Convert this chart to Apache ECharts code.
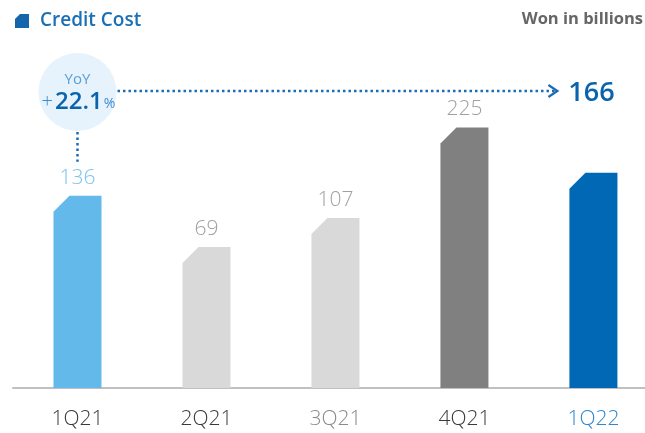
<!DOCTYPE html>
<html><head><meta charset="utf-8">
<script src="https://cdn.jsdelivr.net/npm/echarts@6/dist/echarts.min.js"></script>
<style>html,body{margin:0;padding:0;background:#fff}#c{width:645px;height:433px}</style>
</head><body><div id="c"></div>
<script>
const categories = ['1Q21', '2Q21', '3Q21', '4Q21', '1Q22'];
const values = [136, 69, 107, 225, 166];
const yoyLabel = 'YoY';
const yoyValue = '22.1';
const titleText = 'Credit Cost';
const unitText = 'Won in billions';

const barColors = ['#63b9e9', '#d9d9d9', '#d9d9d9', '#808080', '#0068b4'];
const valueLabelColors = ['#7cc3ec', '#a0a0a0', '#a0a0a0', '#a0a0a0', '#0a64ad'];
const axisLabelColors = ['#3a3a3a', '#3a3a3a', '#8a8a8a', '#3a3a3a', '#2f86cf'];
const Y_MIN = -115, Y_MAX = 300;
const X_MIN = -0.5, X_MAX = 4.4;
const FONT = '"Open Sans", "Noto Sans", sans-serif';

const chart = echarts.init(document.getElementById('c'), null, {renderer: 'canvas'});
chart.setOption({
  animation: false,
  backgroundColor: '#fff',
  grid: {left: 13, right: 0, top: 70, bottom: 45, containLabel: false},
  xAxis: {
    type: 'value', min: X_MIN, max: X_MAX,
    splitLine: {show: false},
    axisLine: {show: true, onZero: false, lineStyle: {color: '#c0c0c0', width: 2}},
    axisTick: {show: false},
    axisLabel: {
      customValues: categories.map((c, i) => i),
      margin: 21, fontSize: 21, fontFamily: FONT, fontWeight: 300,
      formatter: v => categories[Math.round(v)],
      color: (v, i) => axisLabelColors[Math.round(Number(v))]
    }
  },
  yAxis: {type: 'value', min: Y_MIN, max: Y_MAX, show: false, splitLine: {show: false}},
  series: [{
    type: 'custom',
    clip: false,
    data: values.map((v, i) => [i, v]),
    renderItem: function (params, api) {
      const i = api.value(0), v = api.value(1);
      const top = api.coord([i, v]);
      const base = api.coord([i, Y_MIN]);
      const w = 48, c = 16;
      const x0 = top[0] - w / 2, x1 = top[0] + w / 2;
      const children = [{
        type: 'polygon',
        shape: {points: [[x0, base[1]], [x0, top[1] + c], [x0 + c, top[1]], [x1, top[1]], [x1, base[1]]]},
        style: {fill: barColors[i]}
      }];
      if (i < values.length - 1) {
        children.push({
          type: 'text',
          style: {
            text: String(v), x: top[0], y: top[1] - 18,
            align: 'center', verticalAlign: 'middle',
            fontSize: 21, fontFamily: FONT, fontWeight: 300, fill: valueLabelColors[i]
          }
        });
      }
      return {type: 'group', children: children};
    }
  }]
});

// annotations positioned from the chart's own coordinate system
const p0 = chart.convertToPixel({gridIndex: 0}, [0, values[0]]);
const pLast = chart.convertToPixel({gridIndex: 0}, [values.length - 1, values[values.length - 1]]);
const cx = p0[0], cy = 92, r = 39;
const arrowY = 91;
const arrowEnd = pLast[0] - 36;
const blue = '#1a6cb5';

chart.setOption({
  graphic: [
    {type: 'polygon', shape: {points: [[20, 14], [29, 14], [29, 28], [15, 28], [15, 19]]}, style: {fill: '#1565ad'}},
    {type: 'text', left: 40, top: 11, style: {text: titleText, fontSize: 19, fontWeight: 600, fontFamily: FONT, fill: '#1a6fb5'}},
    {type: 'text', right: 2, top: 11, style: {text: unitText, fontSize: 16.5, fontWeight: 'bold', fontFamily: FONT, fill: '#666666'}},
    {type: 'circle', shape: {cx: cx, cy: cy, r: r}, style: {fill: '#e6f3fc'}, z: 5},
    {type: 'text', z: 6, style: {text: yoyLabel, x: cx, y: 80, align: 'center', verticalAlign: 'middle', fontSize: 15, fontFamily: FONT, fill: '#5a9fd6'}},
    {type: 'text', z: 6, style: {
      text: '{p|+}{n|' + yoyValue + '}{s|%}', x: cx + 1, y: 102, align: 'center', verticalAlign: 'middle',
      rich: {
        p: {fontSize: 20, fontFamily: FONT, fontWeight: 300, fill: '#3d8bd0', padding: [0, 2, 0, 0]},
        n: {fontSize: 24, fontFamily: FONT, fontWeight: 600, fill: '#0a64ad'},
        s: {fontSize: 14, fontFamily: FONT, fill: '#3d8bd0', padding: [4, 0, 0, 1]}
      }
    }},
    {type: 'line', z: 4, shape: {x1: cx, y1: cy + r + 1, x2: cx, y2: p0[1] - 34}, style: {stroke: blue, lineWidth: 2.5, lineDash: [2.5, 3]}},
    {type: 'line', z: 4, shape: {x1: cx + r + 1, y1: arrowY, x2: arrowEnd - 2, y2: arrowY}, style: {stroke: blue, lineWidth: 2.5, lineDash: [2.5, 3]}},
    {type: 'polyline', z: 4, shape: {points: [[arrowEnd - 9, arrowY - 6], [arrowEnd, arrowY], [arrowEnd - 9, arrowY + 6]]}, style: {stroke: blue, lineWidth: 2.2, fill: null}},
    {type: 'text', z: 6, style: {text: String(values[values.length - 1]), x: pLast[0] - 2, y: arrowY + 2, align: 'center', verticalAlign: 'middle', fontSize: 27, fontWeight: 600, fontFamily: FONT, fill: '#0a64ad'}}
  ]
});
</script>
</body></html>
